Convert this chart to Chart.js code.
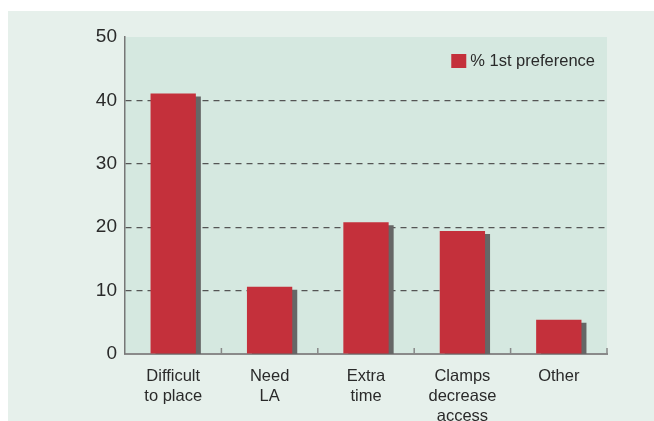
<!DOCTYPE html>
<html>
<head>
<meta charset="utf-8">
<script src="https://cdn.jsdelivr.net/npm/chart.js@4/dist/chart.umd.min.js"></script>
<style>
  html, body { margin: 0; padding: 0; background: #ffffff; }
  #panel { position: absolute; left: 8px; top: 11px; width: 646px; height: 410px; background: #e6f0eb; }
  #grafico { display: block; }
</style>
</head>
<body>
<div id="panel"><canvas id="grafico" width="646" height="410"></canvas></div>
<script>
const categorias = [['Difficult', 'to place'], ['Need', 'LA'], ['Extra', 'time'], ['Clamps', 'decrease', 'access'], ['Other']];
const preferencia = [41.1, 10.6, 20.8, 19.4, 5.4];
const ticksY = [0, 10, 20, 30, 40, 50];

const fonte = "'Liberation Sans', Arial, sans-serif";

// fundo da area do grafico
const fundoArea = {
  id: 'fundoArea',
  beforeDraw(chart) {
    const { ctx, chartArea: a } = chart;
    ctx.save();
    ctx.fillStyle = '#d5e8e0';
    ctx.fillRect(a.left, a.top, a.right - a.left, a.bottom - a.top);
    ctx.restore();
  }
};

// sombra cinza atras das barras
const sombra = {
  id: 'sombra',
  beforeDatasetsDraw(chart) {
    const { ctx, chartArea: a } = chart;
    ctx.save();
    ctx.beginPath();
    ctx.rect(a.left, a.top - 10, a.right - a.left, a.bottom - a.top + 10);
    ctx.clip();
    ctx.shadowColor = '#666666';
    ctx.shadowOffsetX = 5;
    ctx.shadowOffsetY = 3;
    ctx.shadowBlur = 0;
  },
  afterDatasetsDraw(chart) {
    chart.ctx.restore();
  }
};

// marcas do eixo x voltadas para dentro
const marcasX = {
  id: 'marcasX',
  afterDatasetsDraw(chart) {
    const { ctx, chartArea: a } = chart;
    const x = chart.scales.x;
    const n = categorias.length;
    ctx.save();
    ctx.strokeStyle = '#888888';
    ctx.lineWidth = 1.5;
    ctx.beginPath();
    for (let i = 1; i <= n; i++) {
      const px = i === n ? a.right : (x.getPixelForValue(i - 1) + x.getPixelForValue(i)) / 2;
      ctx.moveTo(px, a.bottom);
      ctx.lineTo(px, a.bottom - 6);
    }
    ctx.stroke();
    ctx.restore();
  }
};

// legenda dentro da area do grafico, canto superior direito
const legenda = {
  id: 'legenda',
  afterDraw(chart) {
    const { ctx, chartArea: a } = chart;
    const ds = chart.data.datasets[0];
    ctx.save();
    ctx.font = '16.5px ' + fonte;
    ctx.textBaseline = 'middle';
    ctx.textAlign = 'right';
    const xTexto = a.right - 12;
    const y = a.top + 24;
    const w = ctx.measureText(ds.label).width;
    ctx.fillStyle = ds.backgroundColor;
    ctx.fillRect(xTexto - w - 19, y - 7, 15, 14);
    ctx.fillStyle = '#2a2a2a';
    ctx.fillText(ds.label, xTexto, y);
    ctx.restore();
  }
};

const ctx = document.getElementById('grafico').getContext('2d');

new Chart(ctx, {
  type: 'bar',
  data: {
    labels: categorias,
    datasets: [{
      label: '% 1st preference',
      data: preferencia,
      backgroundColor: '#c4303b',
      borderWidth: 0,
      categoryPercentage: 1,
      barPercentage: 0.47
    }]
  },
  options: {
    responsive: false,
    animation: false,
    devicePixelRatio: 1,
    layout: { padding: { left: 0, right: 47, top: 26, bottom: 0 } },
    plugins: {
      tooltip: { enabled: false },
      legend: { display: false }
    },
    scales: {
      x: {
        grid: { display: false },
        border: { display: true, color: '#8a8a8a', width: 2 },
        ticks: {
          color: '#2a2a2a',
          padding: 4,
          maxRotation: 0,
          autoSkip: false,
          font: { family: fonte, size: 16.5, lineHeight: 1.22 }
        },
        afterFit(scale) { scale.height = 67; }
      },
      y: {
        min: 0,
        max: 50,
        afterBuildTicks(scale) { scale.ticks = ticksY.map(v => ({ value: v })); },
        grid: {
          drawTicks: false,
          lineWidth: 1.2,
          color: c => (c.tick && (c.tick.value === 0 || c.tick.value === 50)) ? 'rgba(0,0,0,0)' : '#555555'
        },
        border: { display: true, color: '#777777', width: 1.5, dash: [6, 5] },
        ticks: {
          color: '#2a2a2a',
          padding: 8,
          font: { family: fonte, size: 19 }
        },
        afterFit(scale) { scale.width = 117; }
      }
    }
  },
  plugins: [fundoArea, sombra, marcasX, legenda]
});
</script>
</body>
</html>
